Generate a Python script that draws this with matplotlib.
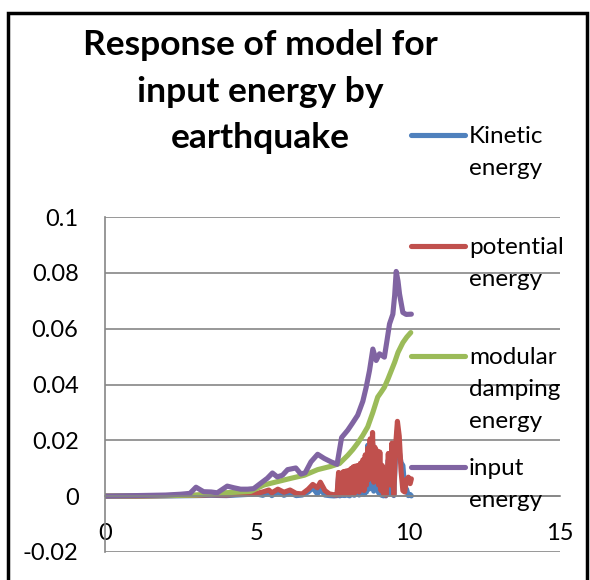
import matplotlib.pyplot as plt
from matplotlib.lines import Line2D
from matplotlib.patches import Rectangle

plt.rcParams['font.family'] = ['Lato', 'DejaVu Sans']

# input energy
t_input = [0, 0.5, 1, 1.5, 2, 2.5, 2.8, 3.0, 3.25, 3.5, 3.7, 4.03, 4.25, 4.47, 4.7, 4.9,
           5.13, 5.35, 5.52, 5.68, 5.85, 6.02, 6.29, 6.46, 6.6, 6.79, 7.01, 7.23, 7.45,
           7.65, 7.8, 8.0, 8.15, 8.33, 8.5, 8.61, 8.72, 8.83, 8.94, 9.05, 9.21, 9.3, 9.38,
           9.49, 9.55, 9.6, 9.66, 9.71, 9.82, 9.93, 10.1]
input_energy = [0, 0.0001, 0.0002, 0.0003, 0.0004, 0.0007, 0.001, 0.0032, 0.0016, 0.0015,
                0.0012, 0.0036, 0.003, 0.0025, 0.0025, 0.0027, 0.0046, 0.0064, 0.0083,
                0.0069, 0.0075, 0.0095, 0.0101, 0.0079, 0.0084, 0.0123, 0.015, 0.0135,
                0.0123, 0.0114, 0.021, 0.0236, 0.026, 0.029, 0.034, 0.039, 0.045, 0.0527,
                0.0486, 0.051, 0.0498, 0.056, 0.0617, 0.0652, 0.072, 0.0805, 0.077, 0.0724,
                0.0658, 0.0651, 0.0652]

# modular damping energy
t_damp = [0, 1, 2, 3, 3.5, 3.9, 4.3, 4.8, 5.24, 5.68, 6.13, 6.57, 7.01, 7.45, 7.73, 8.0,
          8.17, 8.33, 8.5, 8.66, 8.83, 8.99, 9.1, 9.21, 9.33, 9.44, 9.55, 9.66, 9.82, 9.95,
          10.08]
damping_energy = [0, 0.0001, 0.0002, 0.0004, 0.0008, 0.0012, 0.0014, 0.0017, 0.004, 0.0052,
                  0.0064, 0.0075, 0.0095, 0.0107, 0.0117, 0.0146, 0.0167, 0.019, 0.0218,
                  0.0248, 0.030, 0.0355, 0.0372, 0.039, 0.042, 0.045, 0.048, 0.0515, 0.055,
                  0.057, 0.0586]

# kinetic / potential energy share one time list
t_kp = [0, 1, 2, 3, 3.5, 4, 4.5, 5, 5.2, 5.4, 5.5, 5.7, 5.9, 6.1, 6.3, 6.5, 6.7, 6.85, 7.0,
        7.1, 7.25, 7.4, 7.55, 7.65,
        7.70, 7.74, 7.78, 7.82, 7.86, 7.90, 7.94, 7.98, 8.02, 8.06, 8.10, 8.14, 8.18, 8.22,
        8.26, 8.30, 8.34, 8.38, 8.42, 8.46, 8.50, 8.54, 8.58, 8.62, 8.66, 8.70, 8.74, 8.78,
        8.82, 8.86, 8.90, 8.94, 8.98, 9.02, 9.06, 9.10, 9.14, 9.18, 9.22, 9.26, 9.30,
        9.34, 9.40, 9.46, 9.52, 9.58, 9.64, 9.70, 9.76, 9.82, 9.88, 9.94, 10.0, 10.06, 10.1]
potential_energy = [0, 0, 0.0002, 0.0003, 0.0005, 0.0004, 0.0008, 0.001, 0.0015, 0.0022,
                    0.0012, 0.0025, 0.0014, 0.0022, 0.001, 0.0008, 0.0025, 0.0042, 0.003,
                    0.005, 0.002, 0.0008, 0.0005, 0.0004,
                    0.0085, 0.0005, 0.0082, 0.001, 0.0088, 0.0008, 0.009, 0.0012, 0.0092,
                    0.0006, 0.0098, 0.0015, 0.0105, 0.001, 0.0108, 0.002, 0.011, 0.0015,
                    0.0118, 0.0025, 0.013, 0.002, 0.0148, 0.004, 0.0172, 0.006, 0.0205,
                    0.008, 0.0228, 0.005, 0.0175, 0.009, 0.0162, 0.004, 0.0158, 0.002,
                    0.011, 0.0008, 0.0085, 0.0003, 0.0072,
                    0.0153, 0.004, 0.019, 0.0005, 0.018, 0.0268, 0.0215, 0.009, 0.002,
                    0.0015, 0.006, 0.0068, 0.0045, 0.0062]
kinetic_energy = [0, 0, 0.0001, 0.0002, 0.0003, 0.0002, 0.0005, 0.0008, 0.0003, 0.0012,
                  0.0002, 0.0015, 0.0003, 0.0012, 0.0002, 0.0004, 0.0015, 0.003, 0.0008,
                  0.0025, 0.0004, 0.0002, 0.0001, 0.0002,
                  0.007, 0.0001, 0.0068, 0.0003, 0.0072, 0.0002, 0.0075, 0.0004, 0.0078,
                  0.0001, 0.0082, 0.0005, 0.009, 0.0003, 0.0092, 0.0006, 0.0095, 0.0004,
                  0.01, 0.0008, 0.011, 0.0006, 0.0128, 0.0015, 0.0182, 0.0025, 0.0175,
                  0.003, 0.019, 0.0018, 0.014, 0.0035, 0.013, 0.0012, 0.012, 0.0004,
                  0.009, 0.0001, 0.006, 0.0001, 0.0055,
                  0.013, 0.001, 0.0165, 0.0002, 0.015, 0.0235, 0.016, 0.012, 0.011,
                  0.003, 0.0025, 0.0002, 0.0006, 0.0001]

labels = ['Kinetic\nenergy', 'potential\nenergy', 'modular\ndamping\nenergy', 'input\nenergy']
colors = ['#4F81BD', '#C0504D', '#9BBB59', '#8064A2']
series = [(t_kp, kinetic_energy), (t_kp, potential_energy),
          (t_damp, damping_energy), (t_input, input_energy)]
title_lines = ['Response of model for', 'input energy by', 'earthquake']

W, H = 590, 580
fig = plt.figure(figsize=(W / 100, H / 100), dpi=100)
ax = fig.add_axes([105 / W, 1 - 552 / H, 455 / W, 335 / H])

for (t, v), c in zip(series, colors):
    ax.plot(t, v, color=c, linewidth=3.7, solid_capstyle='round', solid_joinstyle='round')

ax.set_xlim(0, 15)
ax.set_ylim(-0.02, 0.1)
ax.set_xticks([0, 5, 10, 15])
ax.set_yticks([-0.02, 0, 0.02, 0.04, 0.06, 0.08, 0.1])
ax.set_yticklabels(['-0.02', '0', '0.02', '0.04', '0.06', '0.08', '0.1'])
ax.grid(axis='y', color='#868686', linewidth=1.2)
ax.set_axisbelow(True)
for s in ['top', 'right']:
    ax.spines[s].set_visible(False)
ax.spines['left'].set_color('#868686')
ax.spines['left'].set_linewidth(1.2)
ax.spines['bottom'].set_position(('data', 0))
ax.spines['bottom'].set_color('#868686')
ax.spines['bottom'].set_linewidth(1.2)
ax.tick_params(axis='both', length=0, labelsize=17)
ax.tick_params(axis='y', pad=19)
ax.tick_params(axis='x', pad=19)

# title, one baseline per line
for line, by in zip(title_lines, [55, 102, 148]):
    fig.text(260 / W, 1 - by / H, line, ha='center', va='baseline',
             fontsize=25.5, fontweight='bold')

# legend, handle level with the first line of each label
handle_y = [135, 246, 356, 467]
for lab, c, hy in zip(labels, colors, handle_y):
    fig.add_artist(Line2D([411 / W, 465 / W], [1 - hy / H, 1 - hy / H], color=c,
                          linewidth=3.7, solid_capstyle='round'))
    for i, line in enumerate(lab.split('\n')):
        fig.text(469 / W, 1 - (hy + 8 + 32 * i) / H, line, ha='left', va='baseline',
                 fontsize=17.5)

# chart border
fig.add_artist(Rectangle((8 / W, -0.05), 579 / W, 1.05 - 13 / H, transform=fig.transFigure,
                         fill=False, edgecolor='black', linewidth=2.5))

fig.savefig('out.png', dpi=100)
